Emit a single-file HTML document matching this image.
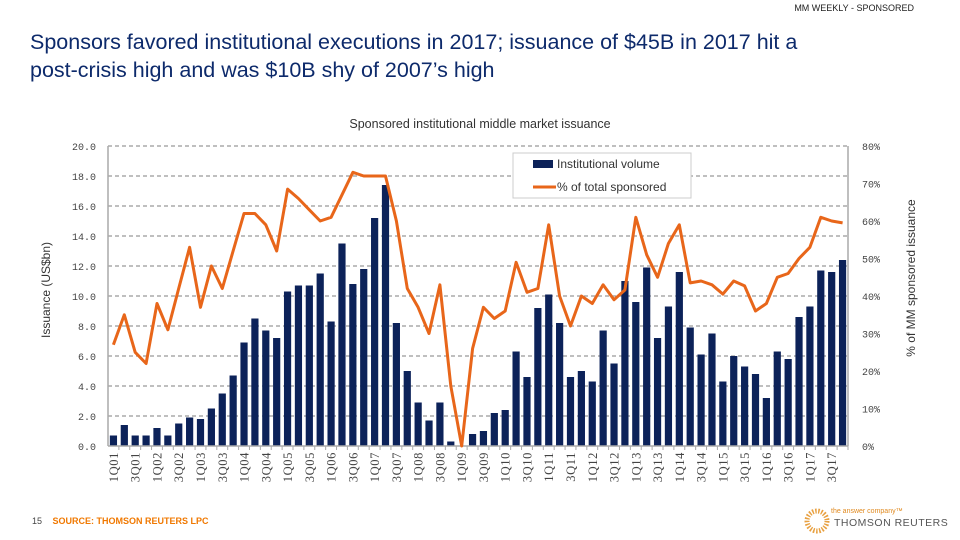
<!DOCTYPE html>
<html><head><meta charset="utf-8">
<style>
body{margin:0;background:#fff;width:960px;height:540px;overflow:hidden;position:relative;font-family:"Liberation Sans",sans-serif}
.hdr{position:absolute;right:46px;top:3px;font-size:9px;color:#222}
.title{position:absolute;left:30px;top:28px;font-size:21.5px;line-height:28px;color:#0d2a6b}
.foot{position:absolute;left:32px;top:516px;font-size:9px;color:#444}
.src{color:#f07800;font-weight:bold;margin-left:8px;font-size:9px}
</style></head><body>
<div class="hdr">MM WEEKLY - SPONSORED</div>
<div class="title">Sponsors favored institutional executions in 2017; issuance of $45B in 2017 hit a<br>post-crisis high and was $10B shy of 2007’s high</div>
<div class="foot">15 <span class="src">SOURCE: THOMSON REUTERS LPC</span></div>
<svg width="960" height="540" style="position:absolute;left:0;top:0" id="chart">
<text x="480" y="128" text-anchor="middle" font-size="12.5" fill="#333" font-family="Liberation Sans,sans-serif">Sponsored institutional middle market issuance</text>
<g id="grid"></g>
<g id="bars"></g>
<g id="axes"></g>
<path id="line" fill="none" stroke="#e8661a" stroke-width="3" stroke-linejoin="round"/>
<g>
<rect x="513" y="153" width="178" height="45" fill="#fff" stroke="#ccc"/>
<rect x="533" y="160" width="20" height="8" fill="#0c2259"/>
<text x="557" y="168" font-size="12" fill="#333">Institutional volume</text>
<line x1="533" y1="187" x2="556" y2="187" stroke="#e8661a" stroke-width="3"/>
<text x="557" y="191" font-size="12" fill="#333">% of total sponsored</text>
</g>
<text transform="translate(50,290) rotate(-90)" text-anchor="middle" font-size="12" fill="#333">Issuance (US$bn)</text>
<text transform="translate(915,278) rotate(-90)" text-anchor="middle" font-size="12" fill="#333">% of MM sponsored issuance</text>
<g>
<circle cx="817" cy="521" r="10" fill="none" stroke="#e8a040" stroke-width="5" stroke-dasharray="1.5 1.5"/>
<text x="831" y="513" font-size="7" fill="#e08a20">the answer company™</text>
<text x="834" y="526" font-size="10.5" fill="#555" letter-spacing="0.5">THOMSON REUTERS</text>
</g>
</svg>
<script>
const years=['01','02','03','04','05','06','07','08','09','10','11','12','13','14','15','16','17'];
const categories=[];years.forEach(y=>{for(let q=1;q<=4;q++)categories.push(q+'Q'+y);});
const volume=[0.7,1.4,0.7,0.7,1.2,0.7,1.5,1.9,1.8,2.5,3.5,4.7,6.9,8.5,7.7,7.2,10.3,10.7,10.7,11.5,8.3,13.5,10.8,11.8,15.2,17.4,8.2,5.0,2.9,1.7,2.9,0.3,0,0.8,1.0,2.2,2.4,6.3,4.6,9.2,10.1,8.2,4.6,5.0,4.3,7.7,5.5,11.0,9.6,11.9,7.2,9.3,11.6,7.9,6.1,7.5,4.3,6.0,5.3,4.8,3.2,6.3,5.8,8.6,9.3,11.7,11.6,12.4];
const pct=[27,35,25,22,38,31,42,53,37,48,42,52,62,62,59,52,68.5,66,63,60,61,67,73,72,72,72,60,42,37,30,43,16,0,26,37,34,36,49,41,42,59,40,32,40,38,43,39,41.6,61,51,45,54,59,43.5,44,43,40.5,44,42.7,36,38,45,46,50,53,61,60,59.5];
const leftTicks=['0.0','2.0','4.0','6.0','8.0','10.0','12.0','14.0','16.0','18.0','20.0'];
const rightTicks=['0%','10%','20%','30%','40%','50%','60%','70%','80%'];
const X0=108,X1=848,Y0=446,Y1=146;
const slot=(X1-X0)/categories.length;
const xc=i=>X0+slot*(i+0.5);
const yL=v=>Y0-(v/20)*(Y0-Y1);
const yR=v=>Y0-(v/80)*(Y0-Y1);
const NS='http://www.w3.org/2000/svg';
function mk(t,a,p){const e=document.createElementNS(NS,t);for(const k in a)e.setAttribute(k,a[k]);p.appendChild(e);return e;}
const grid=document.getElementById('grid'),bars=document.getElementById('bars'),axes=document.getElementById('axes');
leftTicks.forEach(t=>{const v=parseFloat(t);const y=yL(v);
 if(v>0){const l=mk('line',{x1:X0,x2:X1,y1:y,y2:y,stroke:'#999','stroke-width':1.3,'stroke-dasharray':'4 3'},grid);
 
 }
 const tx=mk('text',{x:96,y:y+4,'text-anchor':'end','font-size':10,fill:'#444','font-family':'Liberation Mono,monospace'},axes);tx.textContent=t;
 
 
});
rightTicks.forEach(t=>{const y=yR(parseFloat(t));
 const tx=mk('text',{x:862,y:y+4,'font-size':10,fill:'#444','font-family':'Liberation Mono,monospace'},axes);tx.textContent=t;
 
 
});
mk('line',{x1:X0,x2:X0,y1:Y1,y2:Y0,stroke:'#aaa','stroke-width':1.5},axes);
mk('line',{x1:X1,x2:X1,y1:Y1,y2:Y0,stroke:'#aaa','stroke-width':1.5},axes);
mk('line',{x1:X0,x2:X1,y1:Y0,y2:Y0,stroke:'#aaa','stroke-width':1.5},axes);
categories.forEach((c,i)=>{
 const v=volume[i];const y=yL(v);
 const r=mk('rect',{x:xc(i)-3.6,y:y,width:7.2,height:Y0-y,fill:'#0c2259'},bars);
 
 
 mk('line',{x1:X0+slot*(i+1),x2:X0+slot*(i+1),y1:Y0,y2:Y0+4,stroke:'#aaa'},axes);
 if(i%2===0){const tx=mk('text',{transform:`translate(${xc(i)+4.5},${Y0+6}) rotate(-90)`,'text-anchor':'end','font-size':12.5,'letter-spacing':'0.6',fill:'#444','font-family':'Liberation Serif,serif'},axes);tx.textContent=c;
 
 }
});
document.getElementById('line').setAttribute('d',pct.map((v,i)=>(i?'L':'M')+xc(i).toFixed(1)+','+yR(v).toFixed(1)).join(''));
</script>
</body></html>
